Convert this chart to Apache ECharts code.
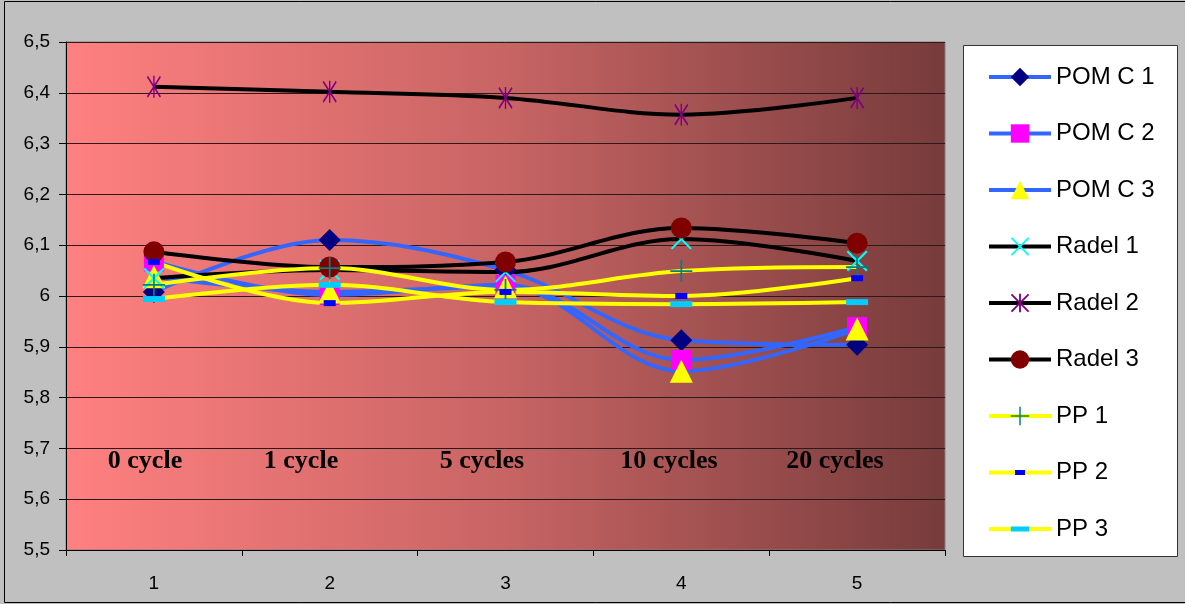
<!DOCTYPE html>
<html>
<head>
<meta charset="utf-8">
<script src="https://cdn.jsdelivr.net/npm/echarts@6/dist/echarts.min.js"></script>
<style>
html,body{margin:0;padding:0;background:#C0C0C0;}
#chart{width:1185px;height:604px;}
</style>
</head>
<body>
<div id="chart"></div>
<script>
// ---- data ----
const categories = ['1', '2', '3', '4', '5'];
const cycleLabels = ['0 cycle', '1 cycle', '5 cycles', '10 cycles', '20 cycles'];
const pomC1 = [6.008, 6.110, 6.051, 5.913, 5.904];
const pomC2 = [6.068, 6.002, 6.022, 5.874, 5.939];
const pomC3 = [6.038, 6.008, 6.018, 5.852, 5.935];
const radel1 = [6.035, 6.051, 6.047, 6.112, 6.069];
const radel2 = [6.412, 6.402, 6.390, 6.357, 6.390];
const radel3 = [6.087, 6.057, 6.067, 6.134, 6.104];
const pp1 = [6.022, 6.055, 6.012, 6.049, 6.057];
const pp2 = [6.067, 5.986, 6.008, 6.000, 6.035];
const pp3 = [5.994, 6.022, 5.988, 5.984, 5.988];
const yTicks = { min: 5.5, max: 6.5, interval: 0.1 };

// ---- symbols ----
const X_PATH = 'path://M0,1.4L1.4,0L20,18.6L18.6,20ZM18.6,0L20,1.4L1.4,20L0,18.6Z';
const STAR_PATH = 'path://M0,1.4L1.4,0L20,18.6L18.6,20ZM18.6,0L20,1.4L1.4,20L0,18.6ZM9,0L11,0L11,20L9,20Z';
const PLUS_PATH = 'path://M0,9.2L20,9.2L20,10.8L0,10.8ZM9.2,0L10.8,0L10.8,20L9.2,20Z';
const DASH_SHORT = 'path://M0,0M22,22M5,8L17,8L17,14L5,14Z';
const DASH_LONG = 'path://M0,0M22,22M0,8L22,8L22,14L0,14Z';

const BLUE = '#3366FF', BLACK = '#000000', YELLOW = '#FFFF00';

function mk(name, data, lineColor, symbol, symbolSize, markColor) {
  return {
    name: name, type: 'line', data: data, smooth: 0.35,
    symbol: symbol, symbolSize: symbolSize,
    lineStyle: { color: lineColor, width: 4 },
    itemStyle: { color: markColor, borderWidth: 0 },
    emphasis: { disabled: true },
    animation: false
  };
}

const series = [
  mk('POM C 1', pomC1, BLUE, 'diamond', 22, '#000080'),
  mk('POM C 2', pomC2, BLUE, 'rect', 20, '#FF00FF'),
  mk('POM C 3', pomC3, BLUE, 'triangle', 23, '#FFFF00'),
  mk('Radel 1', radel1, BLACK, X_PATH, 21, '#00FFFF'),
  mk('Radel 2', radel2, BLACK, STAR_PATH, [14, 22], '#800080'),
  mk('Radel 3', radel3, BLACK, 'circle', 21, '#800000'),
  mk('PP 1', pp1, YELLOW, PLUS_PATH, 22, '#008080'),
  mk('PP 2', pp2, YELLOW, DASH_SHORT, 22, '#0000FF'),
  mk('PP 3', pp3, YELLOW, DASH_LONG, 22, '#00CCFF')
];

const chart = echarts.init(document.getElementById('chart'), null, { renderer: 'canvas' });

const cycleX = [145, 301, 482, 669, 835];
const graphics = [
  { type: 'rect', z: -10, silent: true, shape: { x: 4.5, y: 1.5, width: 1190, height: 601 },
    style: { fill: 'none', stroke: '#000', lineWidth: 1 } },
  { type: 'rect', z: -10, silent: true, shape: { x: 963.5, y: 45.5, width: 214, height: 511 },
    style: { fill: '#FFFFFF', stroke: '#333333', lineWidth: 1 } }
];
cycleLabels.forEach(function (t, i) {
  graphics.push({
    type: 'text', z: 5, silent: true, x: cycleX[i], y: 461,
    style: { text: t, fill: '#000', font: 'bold 26px "Liberation Serif", "DejaVu Serif", serif',
             align: 'center', verticalAlign: 'middle' }
  });
});

chart.setOption({
  backgroundColor: '#C0C0C0',
  animation: false,
  grid: {
    left: 66, top: 42, width: 879, height: 508,
    show: true,
    backgroundColor: new echarts.graphic.LinearGradient(0, 0, 1, 0, [
      { offset: 0, color: '#FF8080' },
      { offset: 0.5, color: '#C86464' },
      { offset: 1, color: '#773B3B' }
    ]),
    borderColor: '#808080', borderWidth: 1
  },
  legend: {
    orient: 'vertical', left: 982, top: 60,
    itemWidth: 62, itemHeight: 23, itemGap: 32.5,
    lineStyle: { width: 4 },
    textStyle: { fontFamily: '"Liberation Sans", Arial, sans-serif', fontSize: 24, color: '#000', lineHeight: 22 },
    selectedMode: false,
    data: series.map(function (s) { return s.name; })
  },
  xAxis: {
    type: 'category', data: categories, boundaryGap: true,
    axisLine: { show: true, lineStyle: { color: '#000', width: 1 } },
    axisTick: { show: true, length: 6, lineStyle: { color: '#000' } },
    axisLabel: { margin: 24, fontFamily: '"Liberation Sans", Arial, sans-serif', fontSize: 19, color: '#000' },
    splitLine: { show: false }
  },
  yAxis: {
    type: 'value', min: yTicks.min, max: yTicks.max, interval: yTicks.interval,
    axisLine: { show: true, lineStyle: { color: '#000', width: 1 } },
    axisTick: { show: true, length: 7, lineStyle: { color: '#000' } },
    axisLabel: {
      margin: 16, fontFamily: '"Liberation Sans", Arial, sans-serif', fontSize: 19, color: '#000',
      formatter: function (v) { return String(Math.round(v * 10) / 10).replace('.', ','); }
    },
    splitLine: { show: true, lineStyle: { color: '#2a1a1a', width: 1 } }
  },
  graphic: graphics,
  series: series
});
</script>
</body>
</html>
